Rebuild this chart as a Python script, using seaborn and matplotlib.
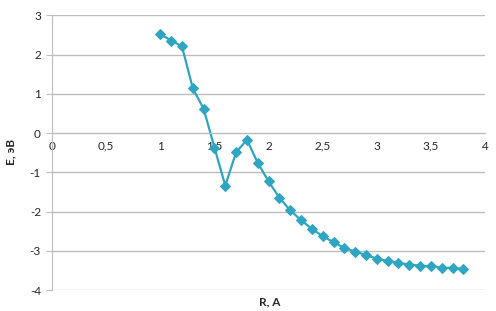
import pandas as pd
import matplotlib
matplotlib.use("Agg")
import matplotlib.pyplot as plt
import seaborn as sns

r_values = [1.0, 1.1, 1.2, 1.3, 1.4, 1.5, 1.6, 1.7, 1.8, 1.9,
            2.0, 2.1, 2.2, 2.3, 2.4, 2.5, 2.6, 2.7, 2.8, 2.9,
            3.0, 3.1, 3.2, 3.3, 3.4, 3.5, 3.6, 3.7, 3.8]
e_values = [2.52, 2.36, 2.21, 1.14, 0.62, -0.37, -1.34, -0.49, -0.17, -0.76,
            -1.23, -1.65, -1.97, -2.22, -2.44, -2.63, -2.78, -2.93, -3.02, -3.11,
            -3.20, -3.26, -3.31, -3.35, -3.38, -3.40, -3.43, -3.44, -3.46]
x_ticks = [0, 0.5, 1, 1.5, 2, 2.5, 3, 3.5, 4]
y_ticks = [-4, -3, -2, -1, 0, 1, 2, 3]

df = pd.DataFrame({"R": r_values, "E": e_values})

sns.set_style("white")
plt.rcParams["font.family"] = ["Lato", "DejaVu Sans"]

fig = plt.figure(figsize=(4.96, 3.11), dpi=100)
ax = fig.add_axes([0.105, 0.0675, 0.873, 0.883])

color = "#2ea6c2"
sns.lineplot(data=df, x="R", y="E", ax=ax, color=color, linewidth=1.6,
             marker="D", markersize=5.5, markeredgecolor=color)

ax.set_xlim(0, 4)
ax.set_ylim(-4, 3)
ax.set_xticks(x_ticks)
ax.set_xticklabels([f"{t:g}".replace(".", ",") for t in x_ticks])
ax.set_yticks(y_ticks)
ax.set_yticklabels([str(t) for t in y_ticks])

# only horizontal grid lines
ax.yaxis.grid(True, color="#bdbdbd", linewidth=1)
ax.set_axisbelow(True)

for s in ["top", "right"]:
    ax.spines[s].set_visible(False)
ax.spines["bottom"].set_position(("data", 0))
ax.spines["bottom"].set_color("#bdbdbd")
ax.spines["left"].set_color("#bdbdbd")

ax.tick_params(axis="x", direction="inout", length=5, color="#bdbdbd",
               labelsize=8.5, pad=3)
ax.tick_params(axis="y", direction="out", length=4, color="#bdbdbd",
               labelsize=8.5, pad=4, left=True)

ax.set_xlabel("")
ax.set_ylabel("")
fig.text(0.544, 0.03, "R, A", ha="center", va="center", fontsize=8.5,
         fontweight="bold")
fig.text(0.022, 0.51, "E, эВ", ha="center", va="center", rotation=90,
         fontsize=8.5, fontweight="bold")

fig.savefig("out.png", dpi=100)
